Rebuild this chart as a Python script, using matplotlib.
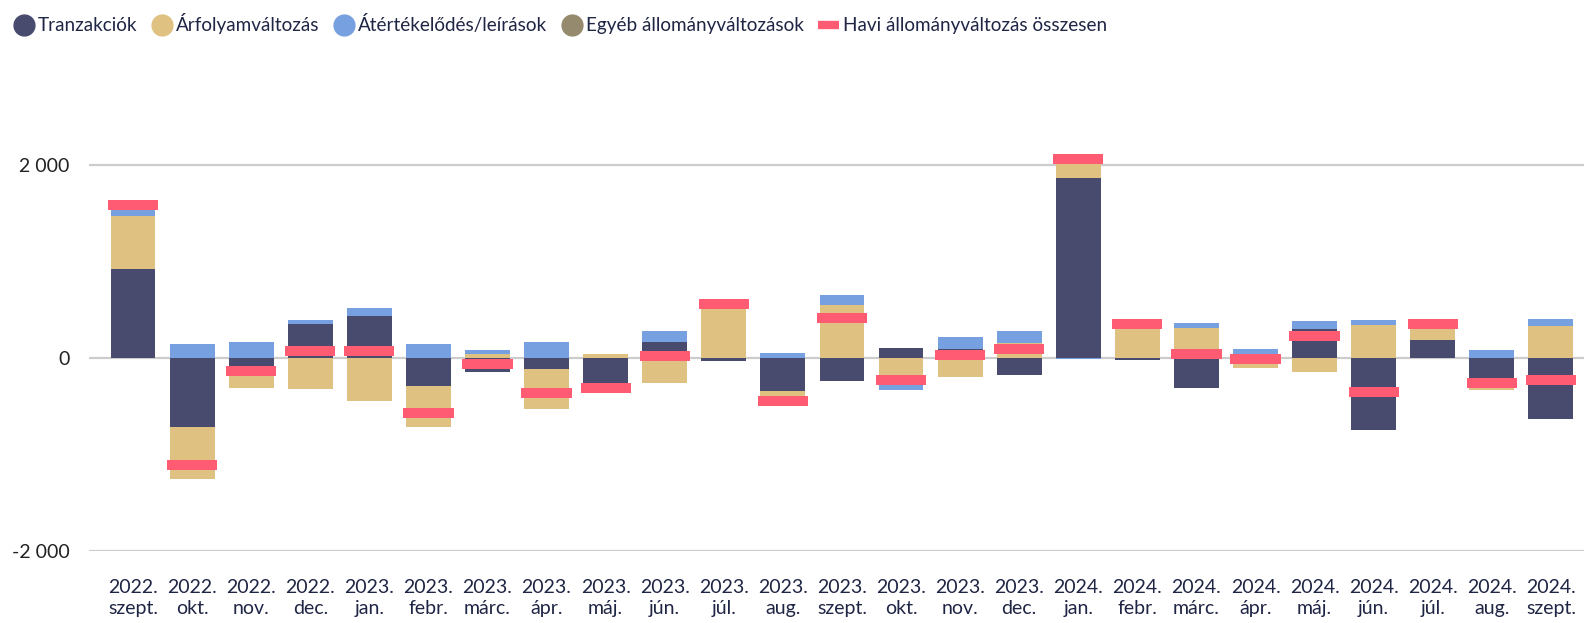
import matplotlib
matplotlib.use("Agg")
import matplotlib.pyplot as plt
from matplotlib.lines import Line2D
import numpy as np

categories = ["2022.\nszept.", "2022.\nokt.", "2022.\nnov.", "2022.\ndec.", "2023.\njan.",
              "2023.\nfebr.", "2023.\nmárc.", "2023.\nápr.", "2023.\nmáj.", "2023.\njún.",
              "2023.\njúl.", "2023.\naug.", "2023.\nszept.", "2023.\nokt.", "2023.\nnov.",
              "2023.\ndec.", "2024.\njan.", "2024.\nfebr.", "2024.\nmárc.", "2024.\nápr.",
              "2024.\nmáj.", "2024.\njún.", "2024.\njúl.", "2024.\naug.", "2024.\nszept."]

tranzakciok = [922, -719, -79, 354, 437, -286, -141, -110, -349, 165, -31, -341, -237,
               103, 93, -175, 1861, -17, -313, 0, 303, -746, 189, -235, -636]
arfolyam = [547, -537, -227, -316, -440, -423, 45, -413, 41, -258, 588, -158, 547,
            -270, -196, 150, 210, 371, 313, -100, -148, 344, 165, -100, 334]
atertekeles = [115, 148, 169, 41, 83, 148, 41, 169, 0, 114, 0, 52, 103,
               -60, 124, 130, -10, 0, 52, 96, 83, 52, 0, 86, 72]
egyeb = [0] * 25
osszesen = [1584, -1111, -138, 76, 72, -568, -58, -358, -308, 17, 557, -447, 413,
            -230, 28, 96, 2061, 354, 45, -7, 230, -354, 354, -255, -230]

series_names = ["Tranzakciók", "Árfolyamváltozás", "Átértékelődés/leírások", "Egyéb állományváltozások"]
series_vals = [tranzakciok, arfolyam, atertekeles, egyeb]
colors = ["#484A6E", "#DFC282", "#77A0E0", "#968A6E"]
total_color = "#FF5C74"
total_name = "Havi állományváltozás összesen"

yticks = [-2000, 0, 2000]
ytick_labels = ["-2 000", "0", "2 000"]

plt.rcParams['font.family'] = ['Lato', 'DejaVu Sans']
text_color = "#1F2544"

fig = plt.figure(figsize=(15.84, 6.23), dpi=100)
W, H = 1584, 623
ax = fig.add_axes([89 / W, (H - 551.3) / H, 1 - 89 / W, (551.3 - 68) / H])

x = np.arange(len(categories))
pos_base = np.zeros(len(categories))
neg_base = np.zeros(len(categories))
bw = 0.76
for vals, c in zip(series_vals, colors):
    v = np.array(vals, dtype=float)
    pos = np.where(v > 0, v, 0)
    neg = np.where(v < 0, v, 0)
    ax.bar(x, pos, bw, bottom=pos_base, color=c, zorder=2, linewidth=0)
    ax.bar(x, neg, bw, bottom=neg_base, color=c, zorder=2, linewidth=0)
    pos_base += pos
    neg_base += neg

th = 105
ax.bar(x, th, 0.85, bottom=np.array(osszesen) - th / 2, color=total_color, zorder=3, linewidth=0)

ax.set_xlim(-0.745, 24.56)
ax.set_ylim(-2000, 3000)
ax.set_yticks(yticks)
ax.set_yticklabels(ytick_labels)
for yv in yticks:
    ax.axhline(yv, color="#CCCCCC", lw=1.6, zorder=1)
ax.set_xticks(x)
ax.set_xticklabels(categories, fontsize=14, color=text_color, linespacing=1.3)
ax.tick_params(axis='x', length=0, pad=20)
ax.tick_params(axis='y', length=0, pad=14, labelsize=14, labelcolor="#222222")
for s in ax.spines.values():
    s.set_visible(False)

handles = [Line2D([], [], marker='o', linestyle='none', markersize=15, markerfacecolor=c,
                  markeredgecolor=c) for c in colors]
handles.append(Line2D([], [], color=total_color, lw=6, solid_capstyle='butt'))
labels = series_names + [total_name]
fig.legend(handles, labels, loc='upper left', bbox_to_anchor=(0.0, 1.0), ncol=5, frameon=False,
           handlelength=1.1, handletextpad=0.2, columnspacing=0.75, fontsize=13.6,
           labelcolor=text_color, borderaxespad=0.3)

fig.savefig("out.png", dpi=100)
